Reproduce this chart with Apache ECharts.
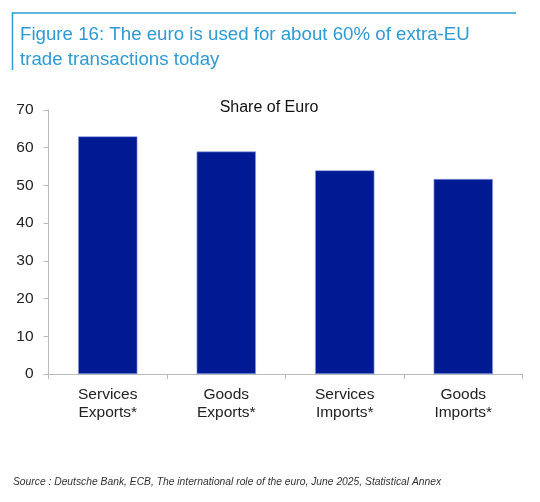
<!DOCTYPE html>
<html><head><meta charset="utf-8">
<script src="https://cdn.jsdelivr.net/npm/echarts@6/dist/echarts.min.js"></script>
<style>html,body{margin:0;padding:0;background:#fff}#c{width:540px;height:502px}</style>
</head><body><div id="c"></div>
<script>
const categories = ['Services\nExports*', 'Goods\nExports*', 'Services\nImports*', 'Goods\nImports*'];
const shareOfEuro = [63, 59, 54, 51.7];
const yTicks = [0, 10, 20, 30, 40, 50, 60, 70];

const chart = echarts.init(document.getElementById('c'), null, {renderer: 'canvas'});
chart.setOption({
  animation: false,
  backgroundColor: '#fff',
  textStyle: {fontFamily: 'Liberation Sans, Arial, sans-serif'},
  title: [{
    text: 'Figure 16: The euro is used for about 60% of extra-EU\ntrade transactions today',
    left: 15, top: 17,
    textStyle: {color: '#2e9ad6', fontSize: 18.7, fontWeight: 'normal', lineHeight: 25}
  }, {
    text: 'Share of Euro',
    left: 264, top: 95, textAlign: 'center',
    textStyle: {color: '#111', fontSize: 16, fontWeight: 'normal'}
  }, {
    text: 'Source : Deutsche Bank, ECB, The international role of the euro, June 2025, Statistical Annex',
    left: 8, top: 472,
    textStyle: {color: '#333', fontSize: 10.3, fontStyle: 'italic', fontWeight: 'normal'}
  }],
  graphic: [
    {type: 'line', shape: {x1: 12, y1: 13, x2: 516, y2: 13}, style: {stroke: '#2e9ad6', lineWidth: 1.5}},
    {type: 'line', shape: {x1: 12.5, y1: 12.5, x2: 12.5, y2: 70}, style: {stroke: '#2e9ad6', lineWidth: 1.5}}
  ],
  grid: {left: 48.5, right: 17.5, top: 110, bottom: 128},
  xAxis: {
    type: 'category',
    data: categories,
    axisLine: {lineStyle: {color: '#bbb'}},
    axisTick: {show: true, alignWithLabel: false, length: 5, lineStyle: {color: '#bbb'}},
    axisLabel: {color: '#222', fontSize: 15.5, lineHeight: 18, margin: 12}
  },
  yAxis: {
    type: 'value', min: 0, max: 70, interval: 10,
    axisLine: {show: true, lineStyle: {color: '#bbb'}},
    axisTick: {show: true, length: 5, lineStyle: {color: '#bbb'}},
    splitLine: {show: false},
    axisLabel: {color: '#222', fontSize: 15.5, margin: 15,
      formatter: v => yTicks.includes(v) ? String(v) : ''}
  },
  series: [{
    type: 'bar',
    data: shareOfEuro,
    barWidth: '50%',
    itemStyle: {color: '#001a94', borderColor: '#8fa0e8', borderWidth: 0.6}
  }]
});
</script></body></html>
